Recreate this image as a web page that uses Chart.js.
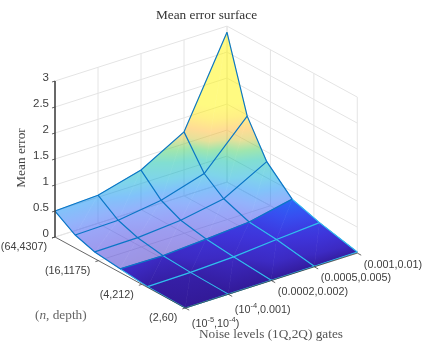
<!DOCTYPE html>
<html>
<head>
<meta charset="utf-8">
<style>html,body{margin:0;padding:0;background:#fff}canvas{display:block}</style>
<script src="https://cdn.jsdelivr.net/npm/chart.js"></script>
</head>
<body>
<canvas id="surf" width="423" height="347"></canvas>
<script>
/* ---------- DATA ---------- */
const zTicks=[0,0.5,1,1.5,2,2.5,3];
const noiseTicks=[0,1,2,3,4];
const depthTicks=[0,1/3,2/3,1];
const depthLabels=["(2,60)","(4,212)","(16,1175)","(64,4307)"];
const noiseLabels=[["(10","-5",",10","-4",")"],["(10","-4",",0.001)"],["(0.0002,0.002)"],["(0.0005,0.005)"],["(0.001,0.01)"]];
// position of each mesh row along the depth axis, front to back
const meshDepth=[0,0.29,0.5,0.695,0.845,1];
// mean error, one row per mesh depth, one value per noise level
const errRow0=[0,0.003,0.005,0.01,0.02];
const errRow1=[0.015,0.025,0.06,0.13,0.19];
const errRow2=[0.07,0.06,0.115,0.18,0.355];
const errRow3=[0.13,0.14,0.21,0.36,0.81];
const errRow4=[0.25,0.27,0.39,0.64,1.48];
const errRow5=[0.5,0.54,0.76,1.23,2.88];
const meshErr=[errRow0,errRow1,errRow2,errRow3,errRow4,errRow5];

/* ---------- COLOURS ---------- */
const rampZ=[0,0.06,0.13,0.25,0.36,0.5,0.64,0.85,1,1.15,1.3,1.5,1.7,3];
const rampRGB=["50,25,150","60,42,195","62,52,218","55,78,240","40,105,248","5,135,245","0,170,215","5,190,165","65,205,95","205,195,55","255,185,45","255,225,15","255,245,5","255,245,5"];
const BLUE="#0a76c6",CYAN="#2fc0ee",AXIS="#404040",GRID="#e4e4e4",SANS="Liberation Sans",SERIF="Liberation Serif";

/* ---------- PROJECTION ---------- */
// oblique view: x unit is one noise step, y unit is one unit of error, left corner is the origin
const SKEW_X=3.03,SKEW_Y=1.365,RISE=0.264;
const pt=(i,t,z)=>({x:i+(1-t)*SKEW_X,y:z+i*RISE-(1-t)*SKEW_Y});

/* ---------- DATASETS ---------- */
const lineDs=(data,color,width,order)=>({type:"scatter",data,showLine:true,borderColor:color,borderWidth:width,pointRadius:0,clip:false,order});
const datasets=[];
zTicks.forEach(z=>datasets.push(lineDs([pt(0,1,z),pt(4,1,z),pt(4,0,z)],GRID,1,5)));
noiseTicks.slice(1).forEach(i=>datasets.push(lineDs([pt(i,0,0),pt(i,1,0),pt(i,1,3)],GRID,1,5)));
depthTicks.forEach(t=>datasets.push(lineDs([pt(0,t,0),pt(4,t,0),pt(4,t,3)],GRID,1,5)));
datasets.push({label:"surface",type:"scatter",data:[],pointRadius:0,order:3});
meshErr.forEach((row,r)=>datasets.push(lineDs(row.map((z,i)=>pt(i,meshDepth[r],z)),r<2?CYAN:BLUE,1.2,r<2?2:1)));
noiseTicks.forEach(i=>{
  const col=meshErr.map((row,r)=>pt(i,meshDepth[r],row[i]));
  datasets.push(lineDs(col.slice(0,3),CYAN,1.1,2));
  datasets.push(lineDs(col.slice(2),BLUE,1.2,1));
});
// axis box and tick stubs
datasets.push(lineDs([pt(0,1,3),pt(0,1,0),pt(0,0,0),pt(4,0,0)],AXIS,0.8,0));
zTicks.forEach(z=>datasets.push(lineDs([pt(0,1,z),pt(-0.07,1,z)],AXIS,0.8,0)));
depthTicks.forEach(t=>datasets.push(lineDs([pt(0,t,0),pt(-0.07,t,0)],AXIS,0.8,0)));
noiseTicks.forEach(i=>datasets.push(lineDs([pt(i,0,0),pt(i,-0.03,0)],AXIS,0.8,0)));

/* ---------- SURFACE ---------- */
function fillTri(ctx,a,b,c){
  const det=(b.px-a.px)*(c.py-a.py)-(c.px-a.px)*(b.py-a.py);
  const gx=((b.z-a.z)*(c.py-a.py)-(c.z-a.z)*(b.py-a.py))/det;
  const gy=((c.z-a.z)*(b.px-a.px)-(b.z-a.z)*(c.px-a.px))/det;
  const g2=gx*gx+gy*gy,top=rampZ[rampZ.length-1];
  let paint;
  if(g2<1e-12){paint=`rgb(${rampRGB[0]})`;}
  else{
    const s0=(0-a.z)/g2,s1=(top-a.z)/g2;
    paint=ctx.createLinearGradient(a.px+gx*s0,a.py+gy*s0,a.px+gx*s1,a.py+gy*s1);
    rampZ.forEach((z,k)=>paint.addColorStop(z/top,`rgb(${rampRGB[k]})`));
  }
  ctx.beginPath();ctx.moveTo(a.px,a.py);ctx.lineTo(b.px,b.py);ctx.lineTo(c.px,c.py);ctx.closePath();
  ctx.fillStyle=paint;ctx.fill();
  ctx.strokeStyle=paint;ctx.lineWidth=0.7;ctx.stroke();
}
function paintRows(ctx,chart,from,to){
  const sx=chart.scales.x,sy=chart.scales.y;
  const v=(i,r)=>{const p=pt(i,meshDepth[r],meshErr[r][i]);
    return{px:sx.getPixelForValue(p.x),py:sy.getPixelForValue(p.y),z:meshErr[r][i]};};
  for(let r=from;r<to;r++)for(let i=0;i<noiseTicks.length-1;i++){
    fillTri(ctx,v(i,r),v(i+1,r),v(i+1,r+1));
    fillTri(ctx,v(i,r),v(i+1,r+1),v(i,r+1));
  }
}
const surfacePlugin={id:"surface",beforeDatasetDraw(chart,args){
  if(chart.data.datasets[args.index].label!=="surface")return;
  const ctx=chart.ctx;
  const off=document.createElement("canvas");off.width=chart.width;off.height=chart.height;
  paintRows(off.getContext("2d"),chart,2,5);
  ctx.save();ctx.globalAlpha=0.5;ctx.drawImage(off,0,0);ctx.restore();
  paintRows(ctx,chart,0,2);
}};

/* ---------- TEXT ---------- */
function drawRun(ctx,x,y,parts,align){
  ctx.textBaseline="middle";ctx.textAlign="left";
  const w=parts.reduce((s,p)=>{ctx.font=p.font;return s+ctx.measureText(p.text).width;},0);
  let cx=align==="right"?x-w:align==="center"?x-w/2:x;
  parts.forEach(p=>{ctx.font=p.font;ctx.fillStyle=p.color;ctx.fillText(p.text,cx,y+(p.dy||0));cx+=ctx.measureText(p.text).width;});
}
const textPlugin={id:"text",afterDraw(chart){
  const ctx=chart.ctx,sx=chart.scales.x,sy=chart.scales.y;ctx.save();
  const px=p=>[sx.getPixelForValue(p.x),sy.getPixelForValue(p.y)];
  const sans=`10.8px "${SANS}"`,sup=`7.5px "${SANS}"`;
  depthTicks.forEach((t,k)=>{const[x,y]=px(pt(0,t,0));
    drawRun(ctx,x-8,y+10.5,[{text:depthLabels[k],font:sans,color:AXIS}],"right");});
  noiseTicks.forEach((i,k)=>{const[x,y]=px(pt(i,0,0));const segs=noiseLabels[k];
    const parts=segs.map((s,n)=>n%2?{text:s,font:sup,color:AXIS,dy:-4}:{text:s,font:sans,color:AXIS});
    drawRun(ctx,x+6.5,y+(segs.length>1?16:11.5),parts,"left");});
  const serif=`13.3px "${SERIF}"`;
  drawRun(ctx,206.5,16,[{text:"Mean error surface",font:serif,color:"#333"}],"center");
  drawRun(ctx,271,334.5,[{text:"Noise levels (1Q,2Q) gates",font:serif,color:"#555"}],"center");
  drawRun(ctx,35,315.5,[{text:"(",font:serif,color:"#666"},{text:"n",font:`italic ${serif}`,color:"#666"},{text:", depth)",font:serif,color:"#666"}],"left");
  ctx.translate(21.5,158);ctx.rotate(-Math.PI/2);
  drawRun(ctx,0,0,[{text:"Mean error",font:serif,color:"#444"}],"center");
  ctx.restore();
}};

/* ---------- CHART ---------- */
new Chart(document.getElementById("surf"),{
  type:"scatter",
  data:{datasets},
  plugins:[surfacePlugin,textPlugin],
  options:{
    responsive:false,animation:false,
    layout:{padding:0},
    plugins:{legend:{display:false},tooltip:{enabled:false},title:{display:false}},
    scales:{
      x:{type:"linear",display:false,min:0,max:8.558},
      y:{type:"linear",min:-2.115,max:4.558,
        afterBuildTicks:s=>{s.ticks=zTicks.map(value=>({value}));},
        afterFit:s=>{s.width=55;s.paddingTop=0;s.paddingBottom=0;},
        grid:{display:false,drawTicks:false},border:{display:false},
        ticks:{color:AXIS,padding:6,labelOffset:-3,autoSkip:false,font:{family:SANS,size:11.5},callback:v=>String(v)}}
    }
  }
});
</script>
</body>
</html>
